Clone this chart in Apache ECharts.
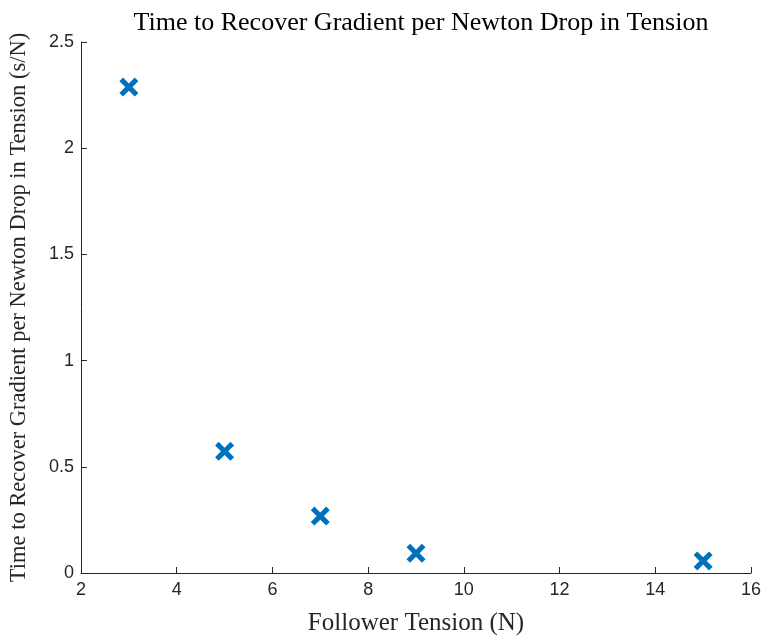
<!DOCTYPE html>
<html>
<head>
<meta charset="utf-8">
<script src="https://cdn.jsdelivr.net/npm/echarts@6/dist/echarts.min.js"></script>
<style>html,body{margin:0;padding:0;background:#fff}#c{width:765px;height:637px}</style>
</head>
<body>
<div id="c"></div>
<script>
const tension = [3, 5, 7, 9, 15];
const recoverTime = [2.288, 0.573, 0.268, 0.093, 0.057];
const xTicks = [2, 4, 6, 8, 10, 12, 14, 16];
const yTicks = [0, 0.5, 1, 1.5, 2, 2.5];

const chart = echarts.init(document.getElementById('c'));
const axisColor = '#262626';
const serif = '"Liberation Serif", "DejaVu Serif", serif';
const sans = '"Liberation Sans", Arial, sans-serif';
chart.setOption({
  backgroundColor: '#fff',
  animation: false,
  title: {
    text: 'Time to Recover Gradient per Newton Drop in Tension',
    left: 416, top: 5, textAlign: 'center',
    textStyle: { fontFamily: serif, fontWeight: 'normal', fontSize: 26, color: '#000' }
  },
  grid: { left: 81, right: 14, top: 42, bottom: 64, containLabel: false, outerBoundsMode: 'none' },
  xAxis: {
    type: 'value', min: 2, max: 16, interval: 2,
    name: 'Follower Tension (N)', nameLocation: 'middle', nameGap: 38,
    nameTextStyle: { fontFamily: serif, fontSize: 25, color: '#262626' },
    axisLine: { show: true, lineStyle: { color: axisColor, width: 1 } },
    axisTick: { show: true, inside: true, length: 6, lineStyle: { color: axisColor } },
    axisLabel: { fontFamily: sans, fontSize: 18, color: axisColor, margin: 8,
      formatter: v => xTicks.includes(v) ? String(v) : '' },
    splitLine: { show: false }
  },
  yAxis: {
    type: 'value', min: 0, max: 2.5, interval: 0.5,
    name: 'Time to Recover Gradient per Newton Drop in Tension (s/N)', nameLocation: 'middle', nameGap: 50,
    nameTextStyle: { fontFamily: serif, fontSize: 22.5, color: '#262626' },
    axisLine: { show: true, lineStyle: { color: axisColor, width: 1 } },
    axisTick: { show: true, inside: true, length: 6, lineStyle: { color: axisColor } },
    axisLabel: { fontFamily: sans, fontSize: 18, color: axisColor, margin: 7,
      formatter: v => yTicks.includes(v) ? String(v) : '' },
    splitLine: { show: false }
  },
  series: [{
    type: 'scatter',
    data: tension.map((x, i) => [x, recoverTime[i]]),
    symbol: 'path://M0,3.8 L3.8,0 L10,6.2 L16.2,0 L20,3.8 L13.8,10 L20,16.2 L16.2,20 L10,13.8 L3.8,20 L0,16.2 L6.2,10 Z',
    symbolSize: 19,
    itemStyle: { color: '#0072BD', opacity: 1 }
  }]
});
</script>
</body>
</html>
